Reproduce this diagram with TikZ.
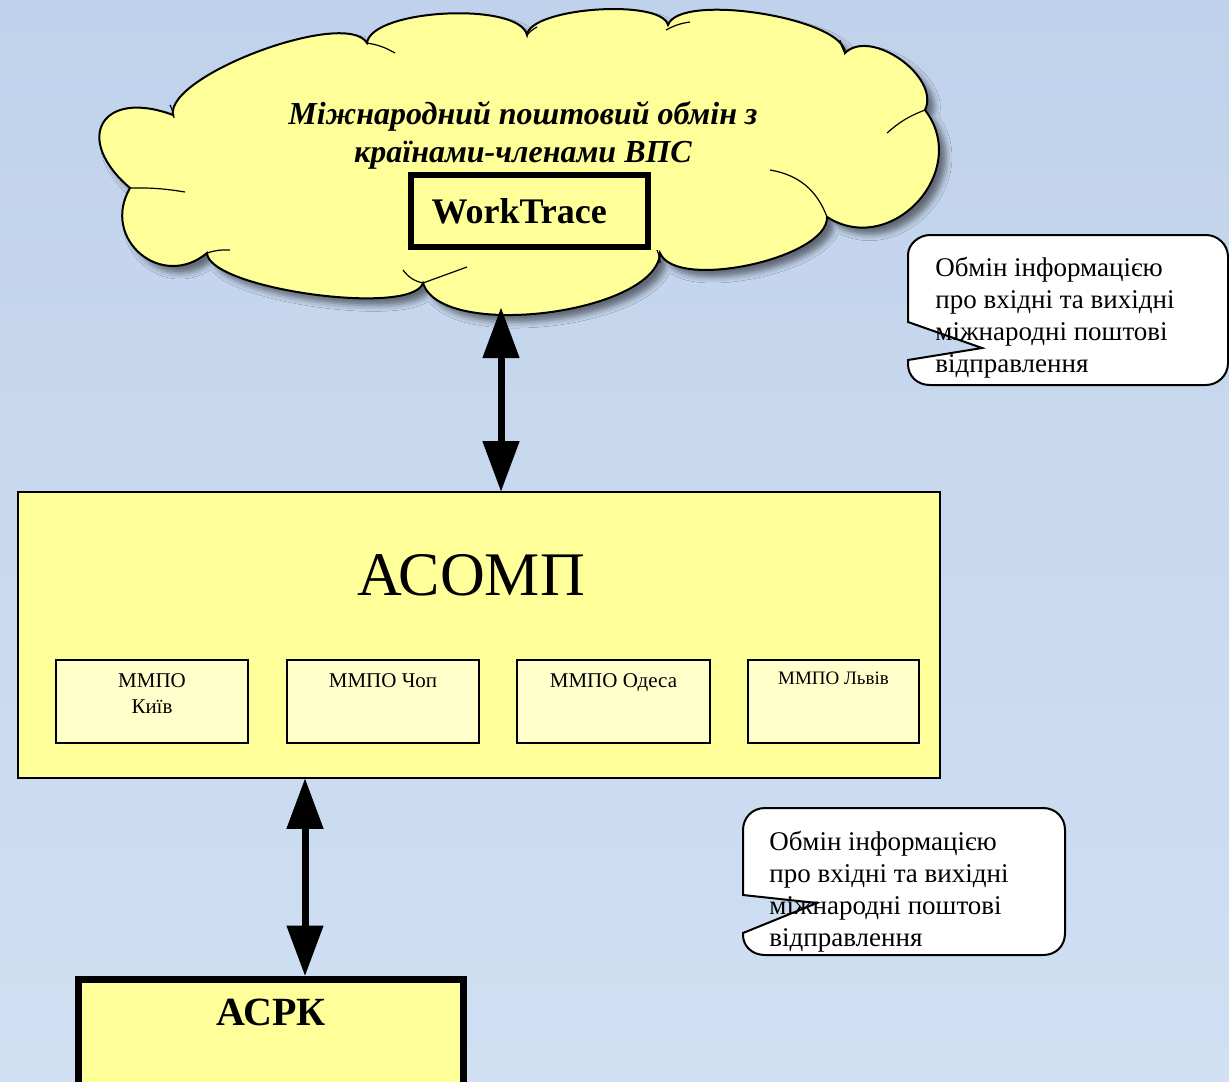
\documentclass[tikz,border=0pt]{standalone}
\usepackage{fontspec}
\setmainfont{Liberation Serif}
\usetikzlibrary{positioning, arrows.meta, shadows.blur}

\begin{document}
\begin{tikzpicture}[x=0.5pt,y=-0.5pt,
  cellbox/.style={draw=black, line width=1pt, fill=cellColor, minimum height=41.5pt, inner sep=0pt},
  celltext/.style={inner sep=0pt, align=center, font=\fontsize{10.5}{13}\selectfont},
  boldbox/.style={draw=black, line width=3pt, fill=yellowColor, inner sep=0pt},
  calloutbox/.style={draw=black, line width=1pt, fill=white},
  callouttext/.style={anchor=west, align=left, inner sep=0pt, font=\fontsize{13.5}{16}\selectfont},
  cloudline/.style={draw=black, line width=0.6pt},
  dblarrow/.style={line width=3.5pt, {Triangle[width=18.5pt,length=25pt,line width=0.5pt,fill=black]}-{Triangle[width=18.5pt,length=25pt,line width=0.5pt,fill=black]}}]
\definecolor{yellowColor}{RGB}{255,255,153}
\definecolor{cellColor}{RGB}{255,255,204}
\definecolor{skyTop}{RGB}{192,210,235}
\definecolor{skyMid}{RGB}{226,235,247}
\definecolor{skyBottom}{RGB}{208,223,242}

\path[use as bounding box] (0,0) rectangle (1229,1081);
\clip (0,0) rectangle (1229,1081);
\shade[top color=skyTop, middle color=skyMid, bottom color=skyBottom] (0,0) rectangle (1229,1081);

\path[draw=black, line width=1pt, fill=yellowColor,
  blur shadow={shadow xshift=3.5pt, shadow yshift=-3.5pt, shadow blur radius=3pt, shadow opacity=50}]
  (173,115) to[bend left=80, looseness=0.5] (367,43)
  to[bend left=80, looseness=0.55] (527,35)
  to[bend left=80, looseness=0.5] (668,25)
  to[bend left=80, looseness=0.5] (845,53)
  to[bend left=80, looseness=0.95] (925,110)
  to[bend left=80, looseness=1.35] (827,217)
  to[bend left=80, looseness=0.62] (660,253)
  to[bend left=80, looseness=0.65] (423,283)
  to[bend left=80, looseness=0.42] (207,253)
  to[bend left=80, looseness=1.5] (130,188)
  to[bend left=80, looseness=2.3] (173,115) -- cycle;

\draw[cloudline] (170,105) to[bend left=10] (174,118);
\draw[cloudline] (367,43) to[bend left=10] (395,53);
\draw[cloudline] (527,35) to[bend left=10] (537,27);
\draw[cloudline] (666,30) to[bend left=10] (690,22);
\draw[cloudline] (845,53) to[bend left=10] (840,40);
\draw[cloudline] (887,133) to[bend left=10] (925,110);
\draw[cloudline] (770,170) to[bend left=30] (827,217);
\draw[cloudline] (657,250) to[bend left=10] (660,263);
\draw[cloudline] (403,270) to[bend right=20] (423,283) -- (467,267);
\draw[cloudline] (130,188) to[bend left=5] (185,192);
\draw[cloudline] (207,253) to[bend left=10] (230,250);

\node[font=\bfseries\itshape\fontsize{16}{19}\selectfont, align=center, inner sep=0pt] (cloudtitle) at (523,135)
  {Міжнародний поштовий обмін з\\країнами-членами ВПС};
\node[boldbox, text width=98pt, inner xsep=10.25pt, minimum height=36pt, align=left,
  font=\bfseries\fontsize{18}{21}\selectfont] (worktrace) at (529.5,211) {WorkTrace};

\draw[calloutbox] (908,322) -- (908,255) .. controls (908,244) and (919,235) .. (930,235)
  -- (1206,235) .. controls (1217,235) and (1228,244) .. (1228,257)
  -- (1228,363) .. controls (1228,376) and (1217,385) .. (1206,385)
  -- (930,385) .. controls (917,385) and (908,376) .. (908,364)
  -- (908,360) -- (982,348) -- cycle;
\node[callouttext] (info1) at (935,318) {Обмін інформацією\\про вхідні та вихідні\\міжнародні поштові\\відправлення};

\draw[calloutbox] (743,895) -- (743,830) .. controls (743,818) and (752,808) .. (765,808)
  -- (1043,808) .. controls (1056,808) and (1065,818) .. (1065,830)
  -- (1065,933) .. controls (1065,946) and (1056,955) .. (1043,955)
  -- (765,955) .. controls (752,955) and (743,946) .. (743,935)
  -- (743,933) -- (817,903) -- cycle;
\node[callouttext] (info2) at (769,892) {Обмін інформацією\\про вхідні та вихідні\\міжнародні поштові\\відправлення};

\node[draw=black, line width=0.8pt, fill=yellowColor, minimum width=461pt, minimum height=143pt, inner sep=0pt] (asomp) at (479,635) {};
\node[font=\fontsize{31}{36}\selectfont, inner sep=0pt, below=31.5pt of asomp.north, xshift=-4pt] (asomptitle) {АСОМП};

\node[cellbox, minimum width=96pt] (kyiv) at (152,701.5) {};
\node[cellbox, minimum width=96pt] (chop) at (383,701.5) {};
\node[cellbox, minimum width=96.5pt] (odesa) at (613.5,701.5) {};
\node[cellbox, minimum width=85.5pt] (lviv) at (833.5,701.5) {};
\node[celltext, below=7pt of kyiv.north] (kyivtext) {ММПО\\Київ};
\node[celltext, below=7pt of chop.north] (choptext) {ММПО Чоп};
\node[celltext, below=7pt of odesa.north] (odesatext) {ММПО Одеса};
\node[celltext, below=6.5pt of lviv.north, font=\fontsize{9.5}{12}\selectfont] (lvivtext) {ММПО Львів};

\node[boldbox, line width=3.5pt, minimum width=192.5pt, minimum height=65pt, anchor=north] (asrk) at (271,975.5) {};
\node[font=\bfseries\fontsize{20}{24}\selectfont, inner sep=0pt, below=11.5pt of asrk.north] (asrktitle) {АСРК};

\coordinate (cloudfoot) at (501,308);
\coordinate (linkfoot) at (305,0);
\draw[dblarrow] (cloudfoot) -- (cloudfoot |- asomp.north);
\draw[dblarrow] (linkfoot |- asomp.south) -- (linkfoot |- asrk.north);
\end{tikzpicture}
\end{document}
